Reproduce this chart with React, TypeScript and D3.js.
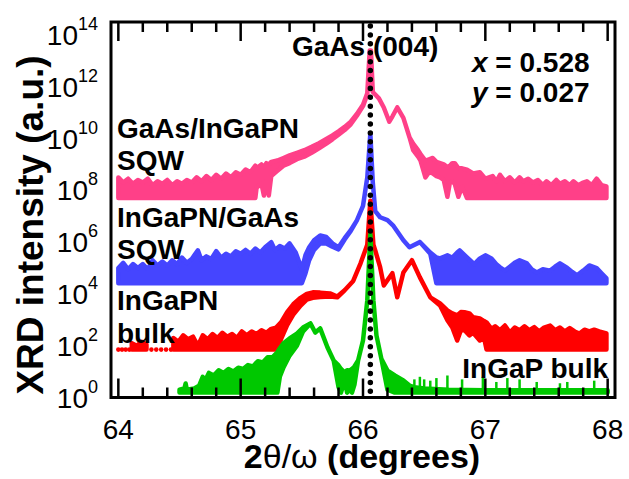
import React, { useEffect } from "react";
import * as d3 from "d3";

// Each row: [2θ (degrees), log10 lower edge, log10 upper edge]; null breaks the trace.
type Row = [number, number, number] | null;

const xTickValues = [64, 65, 66, 67, 68];
const yTickExponents = [0, 2, 4, 6, 8, 10, 12, 14];
const gaAsPeak = 66.06;

// GaAs/InGaPN SQW
const pinkTrace: Row[] = [
  [64.0, 7.7, 8.5], [64.04, 7.7, 8.3], [64.08, 7.7, 8.45], [64.12, 7.7, 8.25], [64.16, 7.7, 8.4],
  [64.2, 7.7, 8.3], [64.24, 7.7, 8.45], [64.28, 7.7, 8.2], [64.32, 7.7, 8.35], [64.36, 7.7, 8.25],
  [64.4, 7.7, 8.4], [64.44, 7.7, 8.2], [64.48, 7.7, 8.35], [64.52, 7.7, 8.25], [64.56, 7.7, 8.4],
  [64.6, 7.7, 8.3], [64.64, 7.7, 8.5], [64.68, 7.7, 8.35], [64.72, 7.7, 8.55], [64.76, 7.7, 8.4],
  [64.8, 7.7, 8.6], [64.84, 7.7, 8.45], [64.88, 7.7, 8.65], [64.92, 7.7, 8.5], [64.96, 7.7, 8.7],
  [65.0, 7.7, 8.6], [65.04, 7.7, 8.8], [65.08, 7.7, 8.7], [65.12, 7.7, 8.95], [65.13, 8.1, 8.85],
  [65.17, 8.25, 9.0], [65.19, 7.8, 8.9], [65.21, 8.35, 9.05], [65.23, 7.8, 9.0], [65.25, 8.55, 9.1],
  [65.3, 8.75, 9.15], [65.35, 8.95, 9.25], [65.4, 9.05, 9.35], [65.46, 9.2, 9.45], [65.52, 9.3, 9.55],
  [65.58, 9.45, 9.68], [65.64, 9.62, 9.82], [65.7, 9.8, 9.98], [65.75, 9.97, 10.12], [65.8, 10.15, 10.28],
  [65.85, 10.33, 10.45], [65.9, 10.55, 10.65], [65.95, 10.88, 10.95], [66.0, 11.25, 11.3],
  [66.035, 11.7, 11.75], [66.055, 13.4, 13.4], [66.065, 13.4, 13.4], [66.08, 11.8, 11.8],
  [66.1, 11.7, 11.7], [66.13, 11.55, 11.55], [66.17, 11.2, 11.2], [66.215, 10.65, 10.65],
  [66.24, 10.85, 10.85], [66.28, 11.2, 11.2], [66.33, 10.8, 10.8], [66.38, 10.05, 10.05],
  [66.41, 9.55, 9.8], [66.45, 9.3, 9.55], [66.47, 9.15, 9.4], [66.51, 8.5, 9.15], [66.54, 8.7, 9.2],
  [66.57, 8.65, 9.25], [66.6, 8.55, 9.1], [66.63, 8.5, 9.05], [66.66, 8.4, 9.0], [66.69, 7.75, 8.9],
  [66.71, 8.3, 8.95], [66.73, 8.35, 9.05], [66.75, 8.25, 9.05], [66.78, 7.75, 8.85], [66.81, 8.15, 8.85],
  [66.85, 7.7, 8.8], [66.9, 7.7, 8.65], [66.955, 7.7, 8.7], [67.0, 7.7, 8.45], [67.06, 7.7, 8.55],
  [67.09, 7.7, 8.35], [67.12, 7.7, 8.6], [67.16, 7.7, 8.35], [67.2, 7.7, 8.5], [67.24, 7.7, 8.3],
  [67.28, 7.7, 8.5], [67.31, 7.7, 8.35], [67.35, 7.7, 8.45], [67.39, 7.7, 8.3], [67.43, 7.7, 8.4],
  [67.47, 7.7, 8.2], [67.5, 7.7, 8.35], [67.54, 7.7, 8.2], [67.58, 7.7, 8.4], [67.61, 7.7, 8.25],
  [67.65, 7.7, 8.35], [67.69, 7.7, 8.2], [67.72, 7.7, 8.35], [67.76, 7.7, 8.2], [67.8, 7.7, 8.3],
  [67.83, 7.7, 8.35], [67.87, 7.7, 8.2], [67.91, 7.7, 8.45], [67.95, 7.7, 8.2], [67.99, 7.7, 8.15],
];

// InGaPN/GaAs SQW
const blueTrace: Row[] = [
  [64.0, 4.41, 5.0], [64.04, 4.41, 5.2], [64.08, 4.41, 4.95], [64.12, 4.41, 5.15], [64.16, 4.41, 5.0],
  [64.2, 4.41, 5.15], [64.24, 4.41, 4.95], [64.28, 4.41, 5.3], [64.32, 4.41, 5.1], [64.36, 4.41, 5.25],
  [64.4, 4.41, 5.1], [64.44, 4.41, 5.3], [64.48, 4.41, 5.15], [64.52, 4.41, 5.4], [64.56, 4.41, 5.2],
  [64.6, 4.41, 5.35], [64.65, 4.41, 5.68], [64.68, 4.41, 5.3], [64.72, 4.41, 5.45], [64.76, 4.41, 5.35],
  [64.8, 4.41, 5.65], [64.84, 4.41, 5.4], [64.88, 4.41, 5.55], [64.92, 4.41, 5.45], [64.96, 4.41, 5.65],
  [65.0, 4.41, 5.55], [65.04, 4.41, 5.7], [65.08, 4.41, 5.55], [65.12, 4.41, 5.75], [65.16, 4.41, 5.6],
  [65.2, 4.41, 5.8], [65.25, 4.41, 6.0], [65.28, 4.41, 5.7], [65.32, 4.41, 5.85], [65.36, 4.41, 5.75],
  [65.4, 4.41, 5.95], [65.45, 4.41, 5.6], [65.5, 4.41, 4.95], [65.53, 4.8, 5.5], [65.56, 5.3, 5.8],
  [65.6, 5.7, 6.07], [65.65, 5.95, 6.26], [65.7, 5.95, 6.2], [65.75, 5.82, 5.95], [65.8, 5.72, 5.8],
  [65.85, 6.1, 6.15], [65.9, 6.43, 6.46], [65.95, 6.84, 6.84], [66.0, 7.4, 7.4], [66.035, 8.5, 8.5],
  [66.06, 10.2, 10.2], [66.08, 8.3, 8.3], [66.1, 7.2, 7.2], [66.14, 6.96, 6.96], [66.2, 6.85, 6.85],
  [66.245, 6.65, 6.65], [66.33, 6.07, 6.07], [66.38, 5.8, 5.8], [66.465, 6.0, 6.0], [66.55, 5.55, 5.6],
  [66.6, 4.41, 5.41], [66.63, 4.41, 5.37], [66.69, 4.41, 5.49], [66.73, 4.41, 5.4], [66.77, 4.41, 5.6],
  [66.79, 4.41, 5.68], [66.85, 4.41, 5.41], [66.91, 4.41, 5.15], [66.95, 4.41, 5.35], [67.0, 4.41, 5.49],
  [67.05, 4.41, 5.37], [67.09, 4.41, 5.15], [67.12, 4.41, 5.03], [67.16, 4.41, 4.9], [67.2, 4.41, 5.05],
  [67.24, 4.41, 5.2], [67.28, 4.41, 5.3], [67.34, 4.41, 5.18], [67.38, 4.41, 4.95], [67.42, 4.41, 4.83],
  [67.47, 4.41, 4.95], [67.53, 4.41, 4.9], [67.57, 4.41, 5.05], [67.61, 4.41, 5.18], [67.67, 4.41, 5.0],
  [67.71, 4.41, 4.85], [67.75, 4.41, 4.72], [67.8, 4.41, 4.9], [67.85, 4.41, 5.1], [67.91, 4.41, 5.0],
  [67.95, 4.41, 4.8], [67.99, 4.41, 4.6],
];

// InGaPN bulk
const redTrace: Row[] = [
  [64.11, 1.85, 2.1], [64.15, 1.85, 2.0], [64.19, 1.85, 2.15], [64.23, 1.85, 2.05], null,
  [64.45, 1.85, 2.3], [64.49, 1.85, 2.15], [64.53, 1.85, 2.4], [64.57, 1.85, 2.25], [64.61, 1.85, 2.35],
  [64.65, 1.85, 2.0], [64.69, 1.85, 2.4], [64.73, 1.85, 2.25], [64.77, 1.85, 2.45], [64.81, 1.85, 2.3],
  [64.85, 1.85, 2.5], [64.89, 1.85, 2.35], [64.93, 1.85, 2.45], [64.97, 1.85, 2.3], [65.01, 1.85, 2.55],
  [65.05, 1.85, 2.4], [65.09, 1.85, 2.55], [65.13, 1.85, 2.45], [65.17, 1.85, 2.6], [65.21, 1.85, 2.5],
  [65.25, 1.85, 2.65], [65.29, 1.85, 2.7], [65.33, 2.25, 2.9], [65.38, 2.8, 3.3], [65.43, 3.2, 3.6],
  [65.49, 3.55, 3.85], [65.54, 3.78, 4.0], [65.59, 3.85, 4.06], [65.65, 3.88, 4.05], [65.73, 3.9, 4.02],
  [65.79, 3.87, 3.9], [65.85, 4.14, 4.14], [65.92, 4.5, 4.5], [65.98, 5.18, 5.18], [66.035, 5.9, 5.9],
  [66.06, 7.6, 7.6], [66.085, 5.9, 5.9], [66.1, 5.68, 5.68], [66.14, 5.03, 5.03], [66.17, 4.33, 4.33],
  [66.24, 4.8, 4.8], [66.28, 3.87, 3.87], [66.33, 4.83, 4.83], [66.4, 5.3, 5.3], [66.465, 4.64, 4.64],
  [66.55, 3.87, 3.87], [66.63, 3.55, 3.63], [66.69, 2.98, 3.36], [66.73, 2.7, 3.25], [66.77, 2.2, 3.17],
  [66.8, 2.6, 3.3], [66.83, 2.6, 3.29], [66.87, 2.4, 3.25], [66.9, 2.5, 3.1], [66.955, 2.2, 3.05],
  [66.99, 2.3, 2.95], [67.01, 1.85, 2.9], [67.05, 1.85, 2.65], [67.08, 1.85, 2.75], [67.12, 1.85, 2.6],
  [67.16, 1.85, 2.78], [67.2, 1.85, 2.51], [67.24, 1.85, 2.7], [67.28, 1.85, 2.6], [67.32, 1.85, 2.75],
  [67.36, 1.85, 2.6], [67.4, 1.85, 2.72], [67.44, 1.85, 2.55], [67.48, 1.85, 2.7], [67.53, 1.85, 2.78],
  [67.57, 1.85, 2.6], [67.61, 1.85, 2.7], [67.65, 1.85, 2.55], [67.69, 1.85, 2.68], [67.73, 1.85, 2.55],
  [67.77, 1.85, 2.47], [67.81, 1.85, 2.62], [67.85, 1.85, 2.55], [67.89, 1.85, 2.62], [67.93, 1.85, 2.55],
  [67.99, 1.85, 2.47],
];
// isolated low-count points at the start of the InGaPN bulk scan
const redSpecks = [64.0, 64.03, 64.06, 64.09, 64.27, 64.31, 64.35, 64.39, 64.43];
const redSpeckLevel = 1.85;

// InGaP bulk
const greenTrace: Row[] = [
  [64.5, 0.19, 0.3], [64.54, 0.19, 0.35], [64.55, 0.19, 0.54], [64.56, 0.19, 0.3], [64.62, 0.19, 0.35],
  [64.66, 0.19, 0.45], [64.69, 0.19, 0.8], [64.7, 0.19, 0.55], [64.74, 0.19, 0.95], [64.78, 0.19, 0.85],
  [64.82, 0.19, 1.05], [64.86, 0.19, 0.95], [64.9, 0.19, 1.1], [64.94, 0.19, 1.0], [64.98, 0.19, 1.15],
  [65.02, 0.19, 1.1], [65.06, 0.19, 1.25], [65.1, 0.19, 1.2], [65.14, 0.19, 1.4], [65.18, 0.19, 1.35],
  [65.22, 0.19, 1.55], [65.26, 0.19, 1.55], [65.3, 0.19, 1.75], [65.32, 0.8, 1.9], [65.35, 1.16, 2.09],
  [65.4, 1.62, 2.28], [65.46, 2.0, 2.47], [65.51, 2.55, 2.7], [65.57, 2.86, 2.86], [65.61, 2.51, 2.51],
  [65.65, 2.67, 2.67], [65.71, 1.93, 1.93], [65.76, 1.43, 1.43], [65.8, 0.4, 1.24], [65.82, 0.19, 1.1],
  [65.85, 0.66, 0.97], [65.87, 0.19, 1.05], [65.89, 0.3, 1.04], [65.91, 0.19, 1.1], [65.93, 0.5, 1.2],
  [65.96, 1.43, 1.43], [66.0, 2.2, 2.2], [66.035, 3.75, 3.75], [66.06, 6.3, 6.3], [66.085, 3.75, 3.75],
  [66.11, 2.4, 2.4], [66.15, 1.5, 1.5], [66.2, 0.3, 1.04], [66.26, 0.19, 0.85], [66.33, 0.19, 0.66],
  [66.38, 0.19, 0.46], [66.42, 0.19, 0.4], [66.5, 0.19, 0.35], [66.7, 0.19, 0.3], [67.0, 0.19, 0.28],
  [67.5, 0.19, 0.28], [68.0, 0.19, 0.28],
];
// sparse single-channel spikes on the InGaP bulk background: [2θ, log10 top]
const greenSpikes: [number, number][] = [
  [66.42, 0.7], [66.465, 0.8], [66.5, 0.7], [66.55, 0.65], [66.6, 0.75], [66.69, 0.85], [66.81, 0.7],
  [66.98, 0.8], [67.09, 0.6], [67.18, 0.75], [67.28, 0.7], [67.42, 0.6], [67.61, 0.55], [67.67, 0.6],
  [67.89, 0.65],
];

const PINK = "#ff4088";
const BLUE = "#4545ff";
const RED = "#ff0000";
const GREEN = "#00c800";
const FONT = "'Liberation Sans', Arial, Helvetica, sans-serif";

export default function App() {
  useEffect(() => {
    document.body.style.margin = "0";
  }, []);

  const left = 111, right = 615, top = 22, bottom = 397.5;
  const x = d3.scaleLinear().domain([63.94, 68.06]).range([left, right]);
  const y = d3.scaleLog().domain([1, 10 ** 14.5]).range([bottom, top]);
  const ye = (e: number) => y(10 ** e);

  const area = d3
    .area<Row>()
    .defined((d) => d !== null)
    .x((d) => x((d as any)[0]))
    .y0((d) => ye((d as any)[1]))
    .y1((d) => ye((d as any)[2]));

  const traces: [Row[], string][] = [
    [pinkTrace, PINK],
    [blueTrace, BLUE],
    [redTrace, RED],
    [greenTrace, GREEN],
  ];

  const minorTicks = d3.range(0, 21).map((i) => ({ v: 64 + i * 0.2, major: i % 5 === 0 }));

  const labelStyle = { fontFamily: FONT, fontWeight: 700, fontSize: 28, fill: "#000" } as const;

  return (
    <div style={{ position: "absolute", left: 0, top: 0 }}>
      <svg width={629} height={479} viewBox="0 0 629 479" style={{ display: "block", background: "#fff" }}>
        {/* traces */}
        {traces.map(([rows, color], i) => (
          <path
            key={i}
            d={area(rows) || ""}
            fill={color}
            stroke={color}
            strokeWidth={4.5}
            strokeLinejoin="round"
          />
        ))}
        {redSpecks.map((v, i) => (
          <circle key={`s${i}`} cx={x(v)} cy={ye(redSpeckLevel)} r={2.3} fill={RED} />
        ))}
        {greenSpikes.map(([v, e], i) => (
          <line
            key={`g${i}`}
            x1={x(v)}
            x2={x(v)}
            y1={ye(0.19)}
            y2={ye(e)}
            stroke={GREEN}
            strokeWidth={2.5}
          />
        ))}

        {/* annotations */}
        <text x={292} y={56} style={labelStyle}>GaAs (004)</text>
        <text x={472} y={72} style={labelStyle}>
          <tspan fontStyle="italic">x</tspan> = 0.528
        </text>
        <text x={472} y={102} style={labelStyle}>
          <tspan fontStyle="italic">y</tspan> = 0.027
        </text>
        <text x={117} y={138} style={labelStyle}>GaAs/InGaPN</text>
        <text x={117} y={170} style={labelStyle}>SQW</text>
        <text x={117} y={227} style={labelStyle}>InGaPN/GaAs</text>
        <text x={117} y={259} style={labelStyle}>SQW</text>
        <text x={117} y={310} style={labelStyle}>InGaPN</text>
        <text x={117} y={343} style={labelStyle}>bulk</text>
        <text x={608} y={378} textAnchor="end" style={labelStyle}>InGaP bulk</text>

        {/* GaAs (004) reference position */}
        <line
          x1={x(gaAsPeak)}
          x2={x(gaAsPeak)}
          y1={top + 4}
          y2={bottom - 3}
          stroke="#000"
          strokeWidth={5.5}
          strokeLinecap="round"
          strokeDasharray="0.01 8.9"
        />

        {/* frame and ticks */}
        <rect x={left} y={top} width={right - left} height={bottom - top} fill="none" stroke="#000" strokeWidth={3} />
        {minorTicks.map((t, i) => {
          const len = t.major ? 19 : 10;
          const px = x(t.v);
          return (
            <g key={`t${i}`} stroke="#000" strokeWidth={2.5}>
              <line x1={px} x2={px} y1={bottom} y2={bottom - len} />
              <line x1={px} x2={px} y1={top} y2={top + len} />
            </g>
          );
        })}

        {/* x tick labels */}
        {xTickValues.map((v) => (
          <text key={`x${v}`} x={x(v)} y={439} textAnchor="middle" style={{ fontFamily: FONT, fontSize: 28 }}>
            {v}
          </text>
        ))}
        {/* y tick labels */}
        {yTickExponents.map((e) => (
          <text key={`y${e}`} x={98} y={ye(e) + 10} textAnchor="end" style={{ fontFamily: FONT, fontSize: 28 }}>
            10
            <tspan dy={-15} fontSize={18}>{e}</tspan>
          </text>
        ))}

        {/* axis titles */}
        <text x={362} y={468} textAnchor="middle" style={{ fontFamily: FONT, fontWeight: 700, fontSize: 34 }}>
          2<tspan fontWeight={400}>θ/ω</tspan> (degrees)
        </text>
        <text
          transform="translate(43,225) rotate(-90)"
          textAnchor="middle"
          style={{ fontFamily: FONT, fontWeight: 700, fontSize: 37 }}
        >
          XRD intensity (a.u.)
        </text>
      </svg>
    </div>
  );
}
